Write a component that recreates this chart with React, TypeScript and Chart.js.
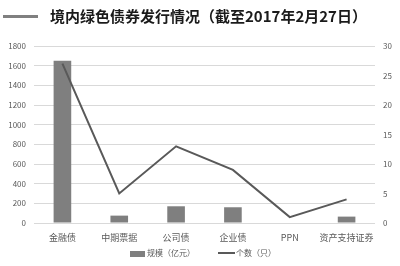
import React, { useEffect, useRef } from "react";
import { Chart, registerables } from "chart.js";

Chart.register(...registerables);

const categories = ["金融债", "中期票据", "公司债", "企业债", "PPN", "资产支持证券"];
const scaleValues = [1650, 75, 170, 160, 5, 65];
const countValues = [27, 5, 13, 9, 1, 4];
const titleText = "境内绿色债券发行情况（截至2017年2月27日）";
const barLabel = "规模（亿元）";
const lineLabel = "个数（只）";

const FONT = "'Noto Sans CJK SC', 'Noto Sans', sans-serif";

export default function App() {
  const ref = useRef<HTMLCanvasElement | null>(null);

  useEffect(() => {
    document.body.style.margin = "0";
    const ctx = ref.current!.getContext("2d")!;
    const chart = new Chart(ctx, {
      type: "bar",
      data: {
        labels: categories,
        datasets: [
          {
            type: "line",
            label: lineLabel,
            data: countValues,
            yAxisID: "y1",
            borderColor: "#595959",
            borderWidth: 2,
            pointRadius: 0,
            tension: 0,
            order: 0,
          },
          {
            type: "bar",
            label: barLabel,
            data: scaleValues,
            yAxisID: "y",
            backgroundColor: "#7f7f7f",
            barPercentage: 0.31,
            categoryPercentage: 1,
            order: 1,
          },
        ],
      },
      options: {
        animation: false,
        responsive: false,
        maintainAspectRatio: false,
        layout: { padding: { top: 46, bottom: 21, left: 0, right: 0 } },
        plugins: { legend: { display: false }, tooltip: { enabled: false }, title: { display: false } },
        scales: {
          x: {
            grid: { display: false, drawTicks: false },
            border: { display: false },
            ticks: { color: "#595959", font: { family: FONT, size: 9 }, padding: 9, maxRotation: 0, autoSkip: false },
            afterFit: (s: any) => { s.height = 22; },
          },
          y: {
            position: "left",
            min: 0,
            max: 1800,
            grid: { color: "#d9d9d9", drawTicks: false, lineWidth: 1 },
            border: { display: false },
            ticks: { stepSize: 200, color: "#595959", font: { family: FONT, size: 8 }, padding: 8, callback: (v: any) => String(v) },
            afterFit: (s: any) => { s.width = 34; },
          },
          y1: {
            position: "right",
            min: 0,
            max: 30,
            grid: { display: false, drawTicks: false },
            border: { display: false },
            ticks: { stepSize: 5, color: "#595959", font: { family: FONT, size: 8 }, padding: 8, callback: (v: any) => String(v) },
            afterFit: (s: any) => { s.width = 25; },
          },
        },
      },
    } as any);
    return () => chart.destroy();
  }, []);

  return (
    <div style={{ position: "absolute", left: 0, top: 0, width: 400, height: 266, background: "#fff", fontFamily: FONT }}>
      <canvas ref={ref} width={400} height={266} style={{ position: "absolute", left: 0, top: 0, width: 400, height: 266 }} />
      <div style={{ position: "absolute", left: 3, top: 15, width: 35, height: 3, background: "#808080" }} />
      <div style={{ position: "absolute", left: 50, top: 6, fontSize: 15, fontWeight: "bold", color: "#1a1a1a", whiteSpace: "nowrap", lineHeight: "20px" }}>
        {titleText}
      </div>
      <div style={{ position: "absolute", left: 130, top: 251, width: 15, height: 6, background: "#7f7f7f" }} />
      <div style={{ position: "absolute", left: 147, top: 247, fontSize: 8, color: "#595959", whiteSpace: "nowrap", lineHeight: "12px" }}>
        {barLabel}
      </div>
      <div style={{ position: "absolute", left: 218, top: 252, width: 17, height: 2, background: "#595959" }} />
      <div style={{ position: "absolute", left: 236, top: 247, fontSize: 8, color: "#595959", whiteSpace: "nowrap", lineHeight: "12px" }}>
        {lineLabel}
      </div>
    </div>
  );
}
